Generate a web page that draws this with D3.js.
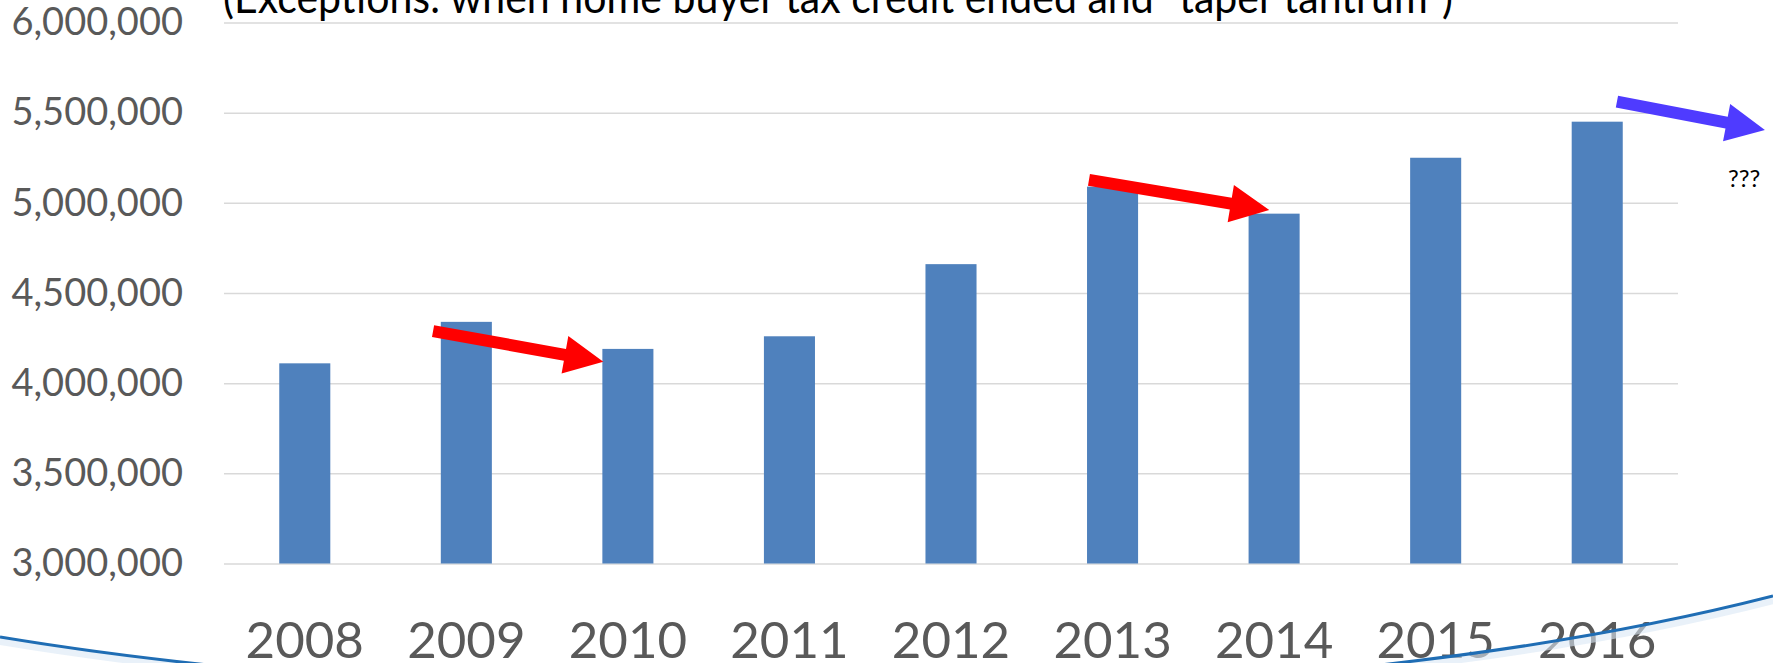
<!DOCTYPE html>
<html>
<head>
<meta charset="utf-8">
<script src="https://cdn.jsdelivr.net/npm/d3@7"></script>
<style>
  html, body { margin: 0; padding: 0; background: #ffffff; overflow: hidden; }
  svg { display: block; }
</style>
</head>
<body>
<svg id="chart" width="1773" height="663"></svg>
<script>
// ---- data ----
const years = ["2008", "2009", "2010", "2011", "2012", "2013", "2014", "2015", "2016"];
const sales = [4110000, 4340000, 4190000, 4260000, 4660000, 5090000, 4940000, 5250000, 5450000];
const yTicks = [3000000, 3500000, 4000000, 4500000, 5000000, 5500000, 6000000];
const titleText = "(Exceptions: when home buyer tax credit ended and \u201ctaper tantrum\u201d)";
// arrow annotations in data units: x = band index position, y = value
const arrowFromIdx = [1.294, 5.354, 8.622];
const arrowFromVal = [4289000, 5127000, 5561000];
const arrowToIdx   = [2.348, 6.470, 9.538];
const arrowToVal   = [4119000, 4960000, 5404000];
const arrowColors  = ["#ff0000", "#ff0000", "#4f3bff"];
const noteText = "???";
const noteIdx = 9.309, noteVal = 5089000;

// ---- layout ----
const W = 1773, H = 663;
const plotL = 224, plotR = 1678, plotT = 22.5, plotB = 563.5;

const svg = d3.select("#chart");

const x = d3.scaleBand().domain(years).range([plotL, plotR])
  .paddingInner(0.684).paddingOuter(0.342);
const xi = d3.scaleLinear().domain([0, years.length]).range([plotL, plotR]);
const y = d3.scaleLinear().domain([3000000, 6000000]).range([plotB, plotT]);

// gridlines
const grid = svg.append("g").attr("transform", `translate(${plotL},0)`)
  .call(d3.axisLeft(y).tickValues(yTicks).tickSize(-(plotR - plotL)).tickFormat(""));
grid.select(".domain").remove();
grid.selectAll("line").attr("stroke", "#d9d9d9").attr("stroke-width", 1.5);

// y labels
const yAx = svg.append("g").attr("transform", `translate(${plotL},0)`)
  .call(d3.axisLeft(y).tickValues(yTicks).tickSize(0).tickPadding(41).tickFormat(d3.format(",")));
yAx.select(".domain").remove();
yAx.selectAll("text")
  .attr("fill", "#595959")
  .style("font-family", "Lato, 'Open Sans', sans-serif")
  .style("font-size", "38px");

// bars
svg.append("g").selectAll("rect").data(years).join("rect")
  .attr("x", d => x(d))
  .attr("width", x.bandwidth())
  .attr("y", (d, i) => y(sales[i]))
  .attr("height", (d, i) => plotB - y(sales[i]))
  .attr("fill", "#4f81bd");

// x labels
const xAx = svg.append("g").attr("transform", `translate(0,${plotB})`)
  .call(d3.axisBottom(x).tickSize(0));
xAx.select(".domain").remove();
xAx.selectAll("text")
  .attr("y", 658 - plotB).attr("dy", 0)
  .attr("fill", "#595959")
  .style("font-family", "Lato, 'Open Sans', sans-serif")
  .style("font-size", "51px");

// title (partially cut off at top, as in the reference)
svg.append("text")
  .attr("x", 223).attr("y", 13)
  .attr("textLength", 1230).attr("lengthAdjust", "spacingAndGlyphs")
  .style("font-family", "Lato, 'Open Sans', sans-serif")
  .style("font-size", "45px")
  .attr("fill", "#000")
  .text(titleText);

// arrows
function arrowPath(x1, y1, x2, y2, shaft, headLen, headW) {
  const dx = x2 - x1, dy = y2 - y1, L = Math.hypot(dx, dy);
  const ux = dx / L, uy = dy / L, nx = -uy, ny = ux;
  const bx = x2 - ux * headLen, by = y2 - uy * headLen;
  const s = shaft / 2, h = headW / 2;
  const pts = [
    [x1 + nx * s, y1 + ny * s],
    [bx + nx * s, by + ny * s],
    [bx + nx * h, by + ny * h],
    [x2, y2],
    [bx - nx * h, by - ny * h],
    [bx - nx * s, by - ny * s],
    [x1 - nx * s, y1 - ny * s]
  ];
  return "M" + pts.map(p => p.join(",")).join("L") + "Z";
}
svg.append("g").selectAll("path").data(arrowColors).join("path")
  .attr("d", (c, i) => arrowPath(xi(arrowFromIdx[i]), y(arrowFromVal[i]), xi(arrowToIdx[i]), y(arrowToVal[i]), 12, 39, 38))
  .attr("fill", c => c);

svg.append("text")
  .attr("x", xi(noteIdx)).attr("y", y(noteVal))
  .style("font-family", "Lato, 'Open Sans', sans-serif")
  .style("font-size", "24px")
  .attr("fill", "#000")
  .text(noteText);

// decorative slide swoosh
svg.append("path")
  .attr("d", "M0,641 C450,716 1250,734 1773,600")
  .attr("fill", "none")
  .attr("stroke", "#dbe8f5")
  .attr("stroke-width", 8)
  .attr("opacity", 0.6);
svg.append("path")
  .attr("d", "M0,637 C450,712 1250,730 1773,596")
  .attr("fill", "none")
  .attr("stroke", "#1f6db4")
  .attr("stroke-width", 3);
</script>
</body>
</html>
